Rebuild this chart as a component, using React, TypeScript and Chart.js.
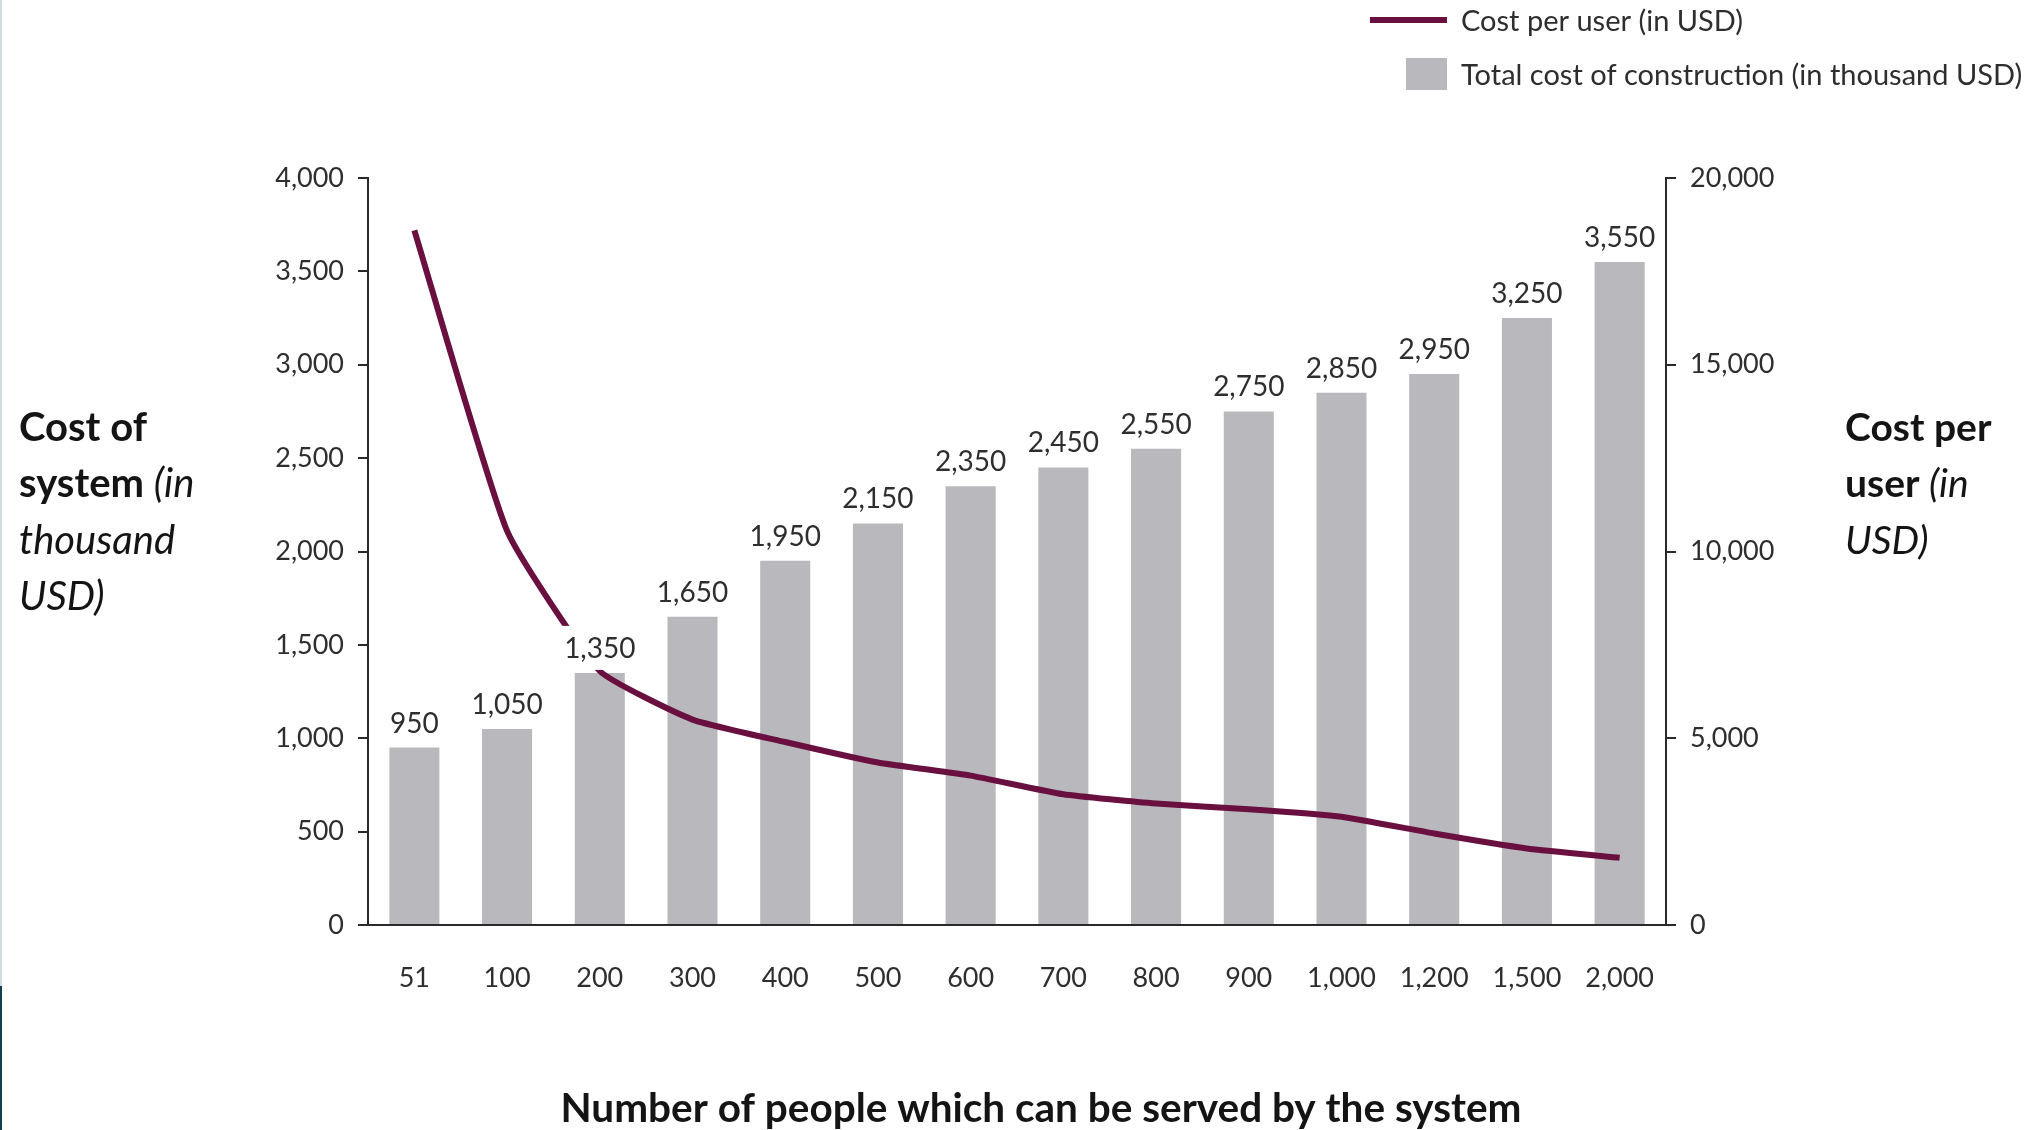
import React, { useEffect, useRef } from 'react';
import { Chart, registerables } from 'chart.js';

Chart.register(...registerables);

// ---- Data ----
const categories = ['51', '100', '200', '300', '400', '500', '600', '700', '800', '900', '1,000', '1,200', '1,500', '2,000'];
const totalCost = [950, 1050, 1350, 1650, 1950, 2150, 2350, 2450, 2550, 2750, 2850, 2950, 3250, 3550];
const costPerUser = [18600, 10550, 6800, 5500, 4900, 4350, 4000, 3500, 3250, 3100, 2900, 2450, 2050, 1800];
const leftAxisRange = [0, 4000, 500]; // min, max, step
const rightAxisRange = [0, 20000, 5000];

const lineLabel = 'Cost per user (in USD)';
const barLabel = 'Total cost of construction (in thousand USD)';
const xTitle = 'Number of people which can be served by the system';
const leftTitle = [
  [{ t: 'Cost of', b: true }],
  [{ t: 'system ', b: true }, { t: '(in', i: true }],
  [{ t: 'thousand', i: true }],
  [{ t: 'USD)', i: true }],
];
const rightTitle = [
  [{ t: 'Cost per', b: true }],
  [{ t: 'user ', b: true }, { t: '(in', i: true }],
  [{ t: 'USD)', i: true }],
];

// ---- Styles ----
const FONT = 'Lato, "Open Sans", sans-serif';
const LINE_COLOR = '#6a1040';
const BAR_COLOR = '#b9b9bd';
const AXIS_COLOR = '#2a2a2a';
const TICK_COLOR = '#2e2e2e';
const TITLE_COLOR = '#141414';

type Seg = { t: string; b?: boolean; i?: boolean };

function drawSegLine(ctx: CanvasRenderingContext2D, segs: Seg[], x: number, y: number, size: number) {
  let cx = x;
  for (const s of segs) {
    ctx.font = `${s.i ? 'italic ' : ''}${s.b ? 'bold ' : ''}${size}px ${FONT}`;
    ctx.fillText(s.t, cx, y);
    cx += ctx.measureText(s.t).width;
  }
}

const decorPlugin = {
  id: 'decor',
  afterDatasetsDraw(chart: any) {
    const ctx: CanvasRenderingContext2D = chart.ctx;
    const meta = chart.getDatasetMeta(1);
    ctx.save();
    ctx.font = `28px ${FONT}`;
    ctx.textAlign = 'center';
    ctx.textBaseline = 'alphabetic';
    meta.data.forEach((bar: any, i: number) => {
      const txt = totalCost[i].toLocaleString('en-US');
      const w = ctx.measureText(txt).width;
      const base = bar.y - 15;
      ctx.fillStyle = '#ffffff';
      ctx.fillRect(bar.x - w / 2 - 4, base - 32, w + 8, bar.y - 3 - (base - 32));
      ctx.fillStyle = '#2e2e2e';
      ctx.fillText(txt, bar.x, base);
    });
    ctx.restore();
  },
  afterDraw(chart: any) {
    const ctx: CanvasRenderingContext2D = chart.ctx;
    ctx.save();
    // Legend
    ctx.strokeStyle = LINE_COLOR;
    ctx.lineWidth = 6;
    ctx.beginPath();
    ctx.moveTo(1370, 20);
    ctx.lineTo(1447, 20);
    ctx.stroke();
    ctx.fillStyle = BAR_COLOR;
    ctx.fillRect(1406, 58, 41, 32);
    ctx.fillStyle = '#2e2e2e';
    ctx.font = `29px ${FONT}`;
    ctx.textAlign = 'left';
    ctx.textBaseline = 'middle';
    ctx.fillText(lineLabel, 1461, 22);
    ctx.fillText(barLabel, 1461, 76);

    // Axis titles
    ctx.fillStyle = TITLE_COLOR;
    ctx.textBaseline = 'middle';
    const lh = 56.5;
    leftTitle.forEach((segs, k) => drawSegLine(ctx, segs as Seg[], 19, 428 + k * lh, 40));
    rightTitle.forEach((segs, k) => drawSegLine(ctx, segs as Seg[], 1845, 428 + k * lh, 39));
    ctx.textAlign = 'center';
    ctx.font = `bold 40.5px ${FONT}`;
    ctx.fillText(xTitle, 1041, 1109);
    ctx.restore();
  },
};

export default function App() {
  const ref = useRef<HTMLCanvasElement>(null);

  useEffect(() => {
    let chart: Chart | null = null;
    let cancelled = false;
    const make = () => {
      if (cancelled || !ref.current) return;
      chart = new Chart(ref.current, {
        type: 'bar',
        data: {
          labels: categories,
          datasets: [
            {
              type: 'line',
              label: lineLabel,
              data: costPerUser,
              yAxisID: 'y1',
              borderColor: LINE_COLOR,
              backgroundColor: LINE_COLOR,
              borderWidth: 6,
              pointRadius: 0,
              tension: 0.15,
              fill: false,
              order: 1,
            } as any,
            {
              type: 'bar',
              label: barLabel,
              data: totalCost,
              yAxisID: 'y',
              backgroundColor: BAR_COLOR,
              barPercentage: 0.54,
              categoryPercentage: 1,
              order: 2,
            },
          ],
        },
        options: {
          responsive: false,
          animation: false,
          locale: 'en-US',
          layout: { padding: { top: 178, left: 0, right: 0, bottom: 0 } },
          plugins: { legend: { display: false }, tooltip: { enabled: false } },
          scales: {
            x: {
              offset: true,
              grid: { display: true, drawOnChartArea: false, drawTicks: false },
              border: { display: true, color: AXIS_COLOR, width: 2 },
              ticks: { color: TICK_COLOR, font: { family: FONT, size: 27 }, padding: 37, maxRotation: 0, autoSkip: false },
              afterFit: (s: any) => { s.height = 205; },
            },
            y: {
              position: 'left',
              min: leftAxisRange[0],
              max: leftAxisRange[1],
              ticks: { stepSize: leftAxisRange[2], color: TICK_COLOR, font: { family: FONT, size: 27 }, padding: 14 },
              grid: { drawOnChartArea: false, tickLength: 10, color: AXIS_COLOR, lineWidth: 2 },
              border: { display: true, color: AXIS_COLOR, width: 2 },
              afterFit: (s: any) => { s.width = 368; },
            },
            y1: {
              position: 'right',
              min: rightAxisRange[0],
              max: rightAxisRange[1],
              ticks: { stepSize: rightAxisRange[2], color: TICK_COLOR, font: { family: FONT, size: 27 }, padding: 14 },
              grid: { drawOnChartArea: false, tickLength: 10, color: AXIS_COLOR, lineWidth: 2 },
              border: { display: true, color: AXIS_COLOR, width: 2 },
              afterFit: (s: any) => { s.width = 360; },
            },
          },
        },
        plugins: [decorPlugin],
      });
    };
    const fontsApi: any = (document as any).fonts;
    if (fontsApi && fontsApi.load) {
      Promise.all([
        fontsApi.load(`27px Lato`),
        fontsApi.load(`bold 38px Lato`),
        fontsApi.load(`italic 38px Lato`),
      ]).then(make, make);
    } else {
      make();
    }
    return () => {
      cancelled = true;
      if (chart) chart.destroy();
    };
  }, []);

  return (
    <div style={{ position: 'absolute', left: 0, top: 0, width: 2026, height: 1130, background: '#ffffff', overflow: 'hidden' }}>
      <canvas ref={ref} width={2026} height={1130} style={{ display: 'block', position: 'absolute', left: 0, top: 0 }} />
      <div style={{ position: 'absolute', left: 0, top: 0, width: 2, height: 986, background: '#d3dbe2' }} />
      <div style={{ position: 'absolute', left: 0, top: 986, width: 2, height: 144, background: '#12404f' }} />
    </div>
  );
}
